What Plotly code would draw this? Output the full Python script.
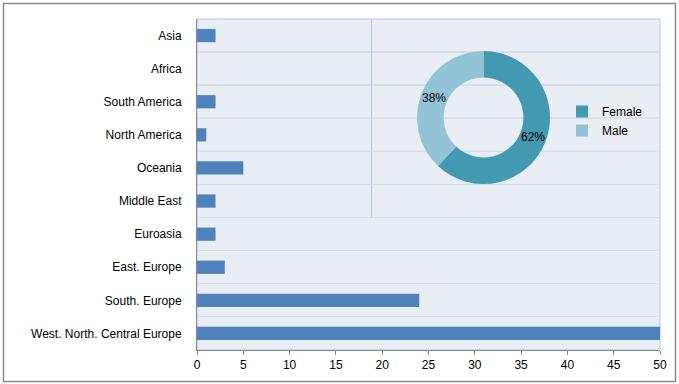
import math
import plotly.graph_objects as go

# ---- data ----
regions = ["Asia", "Africa", "South America", "North America", "Oceania",
           "Middle East", "Euroasia", "East. Europe", "South. Europe",
           "West. North. Central Europe"]
counts = [2, 0, 2, 1, 5, 2, 2, 3, 24, 50]

genders = ["Female", "Male"]
gender_values = [62, 38]

x_ticks = [0, 5, 10, 15, 20, 25, 30, 35, 40, 45, 50]

# ---- styles ----
BAR = "#4F81BD"
PIE_COLORS = ["#4399B0", "#93C4D5"]
BG = "#E9EDF4"
GRID_DARK = "#B4C7E7"
GRID_LIGHT = "#D3DEF0"
AXIS = "#868686"
FONT = "Liberation Sans"

W, H = 679, 384
L, R, T, B = 197, 19, 19, 34
pw, ph = W - L - R, H - T - B

def px_x(x):
    return (x - L) / pw

def px_y(y):
    return (H - B - y) / ph

ypos = list(range(len(regions)))
boundaries = [i + 0.5 for i in ypos[:-1]]

HOLE = 0.6
pie_x = [px_x(417), px_x(550)]
pie_y = [px_y(184), px_y(51)]

fig = go.Figure()
fig.add_trace(go.Bar(
    x=counts, y=ypos, orientation="h", width=0.4,
    marker=dict(color=BAR, line=dict(width=0)),
    showlegend=False, hoverinfo="skip",
))

fig.add_trace(go.Pie(
    labels=genders, values=gender_values, hole=HOLE, sort=False,
    direction="clockwise", rotation=0,
    marker=dict(colors=PIE_COLORS, line=dict(width=0)),
    textinfo="none",
    domain=dict(x=pie_x, y=pie_y),
    showlegend=True,
))

# percentage labels placed horizontally at the middle of each ring slice
annotations = []
total = sum(gender_values)
cx = (pie_x[0] + pie_x[1]) / 2
cy = (pie_y[0] + pie_y[1]) / 2
r_out_px = min((pie_x[1] - pie_x[0]) * pw, (pie_y[1] - pie_y[0]) * ph) / 2
r_mid_px = r_out_px * (1 + HOLE) / 2
cum = 0
for v in gender_values:
    mid = (cum + v / 2) / total * 2 * math.pi
    cum += v
    annotations.append(dict(
        xref="paper", yref="paper",
        x=cx + r_mid_px * math.sin(mid) / pw,
        y=cy + r_mid_px * math.cos(mid) / ph,
        text=f"{round(v / total * 100)}%", showarrow=False,
        font=dict(family=FONT, size=12, color="black"),
        xanchor="center", yanchor="middle"))

shapes = []
shapes.append(dict(type="rect", xref="paper", yref="paper", x0=0, x1=1, y0=0, y1=1,
                   line=dict(color=GRID_DARK, width=1), layer="below"))
frame_rows = 6
for b in boundaries[:frame_rows - 1]:
    shapes.append(dict(type="line", xref="paper", yref="y", x0=0, x1=1, y0=b, y1=b,
                       line=dict(color=GRID_DARK, width=1), layer="below"))
shapes.append(dict(type="line", xref="paper", yref="paper", x0=px_x(371.5), x1=px_x(371.5),
                   y0=px_y(217), y1=1, line=dict(color=GRID_DARK, width=1), layer="below"))
shapes.append(dict(type="rect", xref="paper", yref="paper",
                   x0=px_x(3.5), x1=px_x(675.5), y0=px_y(381.5), y1=px_y(3.5),
                   line=dict(color="#8C8C8C", width=1.5)))

fig.update_layout(
    width=W, height=H,
    margin=dict(l=L, r=R, t=T, b=B),
    paper_bgcolor="white", plot_bgcolor=BG,
    font=dict(family=FONT, size=12, color="black"),
    bargap=0.6,
    shapes=shapes,
    annotations=annotations,
    legend=dict(x=px_x(562), y=px_y(97), xanchor="left", yanchor="top",
                bgcolor="rgba(0,0,0,0)", font=dict(family=FONT, size=12, color="black"),
                itemwidth=30, tracegroupgap=0),
    xaxis=dict(range=[0, 50], tickvals=x_ticks, ticktext=[str(v) for v in x_ticks],
               showgrid=False, zeroline=False, showline=True, linecolor=AXIS, linewidth=1,
               ticks="outside", ticklen=4, tickcolor=AXIS, fixedrange=True),
    yaxis=dict(range=[len(regions) - 0.5, -0.5], tickvals=ypos, ticktext=regions,
               showgrid=False, zeroline=False, showline=True, linecolor=AXIS, linewidth=1,
               ticks="", ticklabelstandoff=12,
               minor=dict(tickvals=boundaries, showgrid=True, gridcolor=GRID_LIGHT,
                          gridwidth=1, ticks=""),
               fixedrange=True),
)

fig.write_html("out.html", config={"displayModeBar": False},
               post_script="document.body.style.margin='0';document.body.style.overflow='hidden';")
